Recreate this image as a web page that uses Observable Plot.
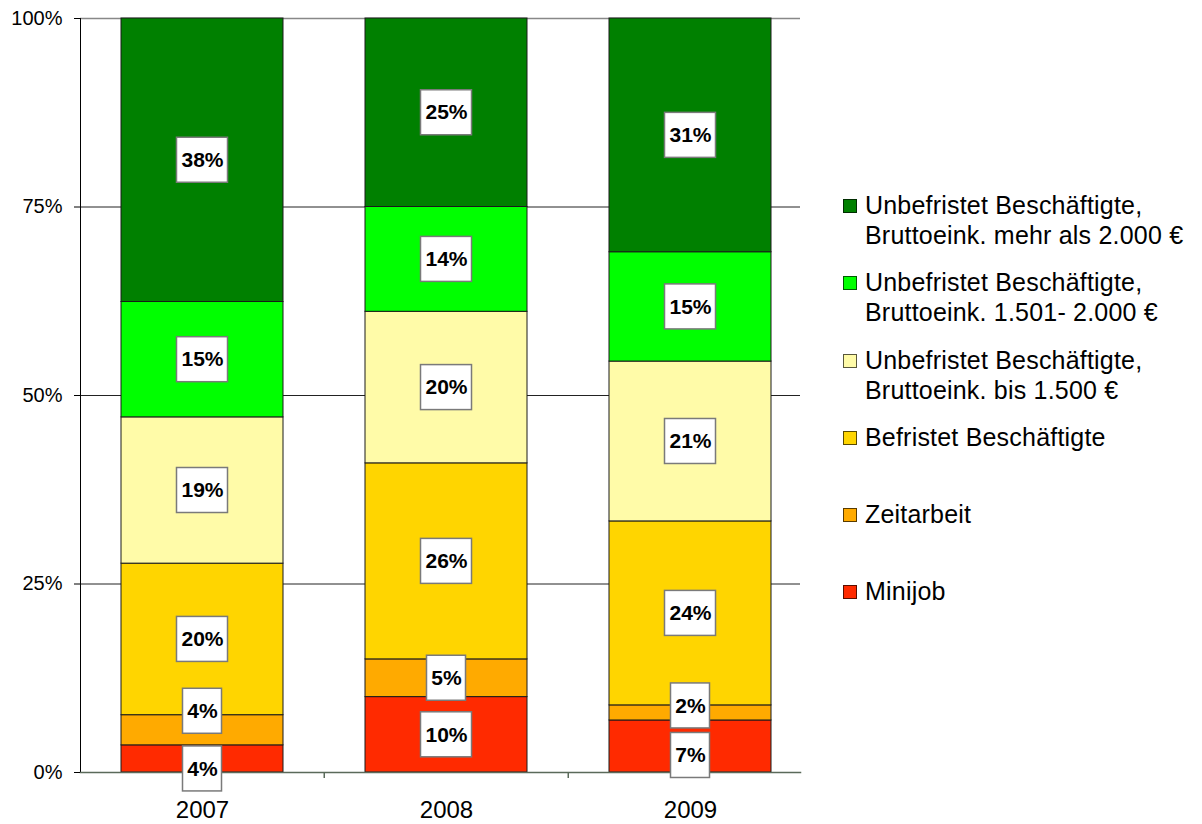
<!DOCTYPE html>
<html>
<head>
<meta charset="utf-8">
<script src="https://cdn.jsdelivr.net/npm/d3@7"></script>
<script src="https://cdn.jsdelivr.net/npm/@observablehq/plot@0.6"></script>
<style>
  html, body { margin: 0; padding: 0; background: #fff; }
  #wrap { position: relative; width: 1202px; height: 824px; font-family: "Liberation Sans", Arial, sans-serif; }
  #legend { position: absolute; left: 843px; top: 190px; }
  .item { position: relative; height: 77.3px; }
  .sw { position: absolute; left: 0; top: 9px; width: 12px; height: 12px; border: 1px solid rgba(0,0,0,0.65); }
  .lbl { position: absolute; left: 22px; top: 0; font-size: 25px; line-height: 30px; white-space: nowrap; color: #000; letter-spacing: 0.2px; }
</style>
</head>
<body>
<div id="wrap"><div id="legend"></div></div>
<script>
const years = ["2007", "2008", "2009"];
const categories = [
  "Minijob",
  "Zeitarbeit",
  "Befristet Beschäftigte",
  "Unbefristet Beschäftigte, Bruttoeink. bis 1.500 €",
  "Unbefristet Beschäftigte, Bruttoeink. 1.501- 2.000 €",
  "Unbefristet Beschäftigte, Bruttoeink. mehr als 2.000 €"
];
const legendLines = [
  ["Minijob"],
  ["Zeitarbeit"],
  ["Befristet Beschäftigte"],
  ["Unbefristet Beschäftigte,", "Bruttoeink. bis 1.500 €"],
  ["Unbefristet Beschäftigte,", "Bruttoeink. 1.501- 2.000 €"],
  ["Unbefristet Beschäftigte,", "Bruttoeink. mehr als 2.000 €"]
];
const share2007 = [3.6, 4.0, 20.1, 19.4, 15.3, 37.6];
const share2008 = [10.0, 5.0, 26.0, 20.1, 13.9, 25.0];
const share2009 = [6.9, 2.0, 24.4, 21.2, 14.5, 31.0];
const yTicks = [0, 25, 50, 75, 100];

const colors = ["#FF2A00", "#FFAA00", "#FFD500", "#FFFBA8", "#00FF00", "#008000"];

const shares = [share2007, share2008, share2009];
const data = [];
years.forEach((yr, yi) => categories.forEach((c, ci) => data.push({year: yr, cat: c, value: shares[yi][ci]})));

// label nudges (pixels) to avoid overlapping boxes, as in the original
const nudge = {"2007|Minijob": 10, "2007|Zeitarbeit": -19, "2009|Zeitarbeit": -7, "2009|Minijob": 9};

const W = 1202, H = 824, mL = 80, mR = 402, mT = 18, mB = 52;
const pIn = 0.3374, pOut = 0.1411, align = 0.58;
const step = (W - mL - mR) / (years.length - pIn + 2 * pOut);

function boxRender(index, scales, values, dimensions, context, next) {
  const Y = Float64Array.from(values.y, (y, i) => y + (nudge[data[i].year + "|" + data[i].cat] || 0));
  const g = next(index, scales, {...values, y: Y}, dimensions, context);
  const ns = "http://www.w3.org/2000/svg";
  const outer = document.createElementNS(ns, "g");
  const bw = scales.x.bandwidth();
  for (const i of index) {
    const t = Math.round(data[i].value) + "%";
    const w = 15 + 12 * t.length, h = 45;
    const cx = scales.x(data[i].year) + bw / 2;
    const r = document.createElementNS(ns, "rect");
    r.setAttribute("x", cx - w / 2);
    r.setAttribute("y", Y[i] - h / 2);
    r.setAttribute("width", w);
    r.setAttribute("height", h);
    r.setAttribute("fill", "#fff");
    r.setAttribute("stroke", "#7a7a7a");
    r.setAttribute("stroke-width", 1.5);
    outer.appendChild(r);
  }
  outer.appendChild(g);
  return outer;
}

const chart = Plot.plot({
  width: W, height: H,
  marginLeft: mL, marginRight: mR, marginTop: mT, marginBottom: mB,
  style: {fontFamily: "'Liberation Sans', Arial, sans-serif", background: "white", color: "#000"},
  x: {domain: years, paddingInner: pIn, paddingOuter: pOut, align: align, axis: null},
  y: {domain: [0, 100], axis: null},
  color: {domain: categories, range: colors},
  marks: [
    Plot.ruleY([25, 50, 75], {stroke: "#222", strokeWidth: 1}),
    Plot.ruleY([100], {stroke: "#888", strokeWidth: 1.5}),
    Plot.barY(data, {x: "year", y: "value", fill: "cat", stroke: "#1a1a1a", strokeWidth: 1}),
    Plot.frame({anchor: "left", stroke: "#000"}),
    Plot.frame({anchor: "bottom", stroke: "#5a6a5a", strokeWidth: 1.5}),
    Plot.ruleX(years.slice(1), {x: d => d, y1: 0, y2: 0, insetTop: 6, dx: -step / 2, stroke: "#5a6a5a", strokeWidth: 1.5}),
    Plot.axisY({ticks: yTicks, tickFormat: d => d + "%", tickSize: 6, tickPadding: 12, fontSize: 20, stroke: "#000", label: null}),
    Plot.axisX({tickSize: 0, tickPadding: 28, fontSize: 24, label: null}),
    Plot.text(data, Plot.stackY({
      x: "year", y: "value", z: "cat",
      text: d => Math.round(d.value) + "%",
      fontWeight: "bold", fontSize: 21, fill: "#000",
      render: boxRender
    }))
  ]
});
document.getElementById("wrap").prepend(chart);

const legend = document.getElementById("legend");
for (let i = categories.length - 1; i >= 0; i--) {
  const item = document.createElement("div");
  item.className = "item";
  const sw = document.createElement("div");
  sw.className = "sw";
  sw.style.background = colors[i];
  const lbl = document.createElement("div");
  lbl.className = "lbl";
  lbl.innerHTML = legendLines[i].join("<br>");
  item.appendChild(sw);
  item.appendChild(lbl);
  legend.appendChild(item);
}
</script>
</body>
</html>
